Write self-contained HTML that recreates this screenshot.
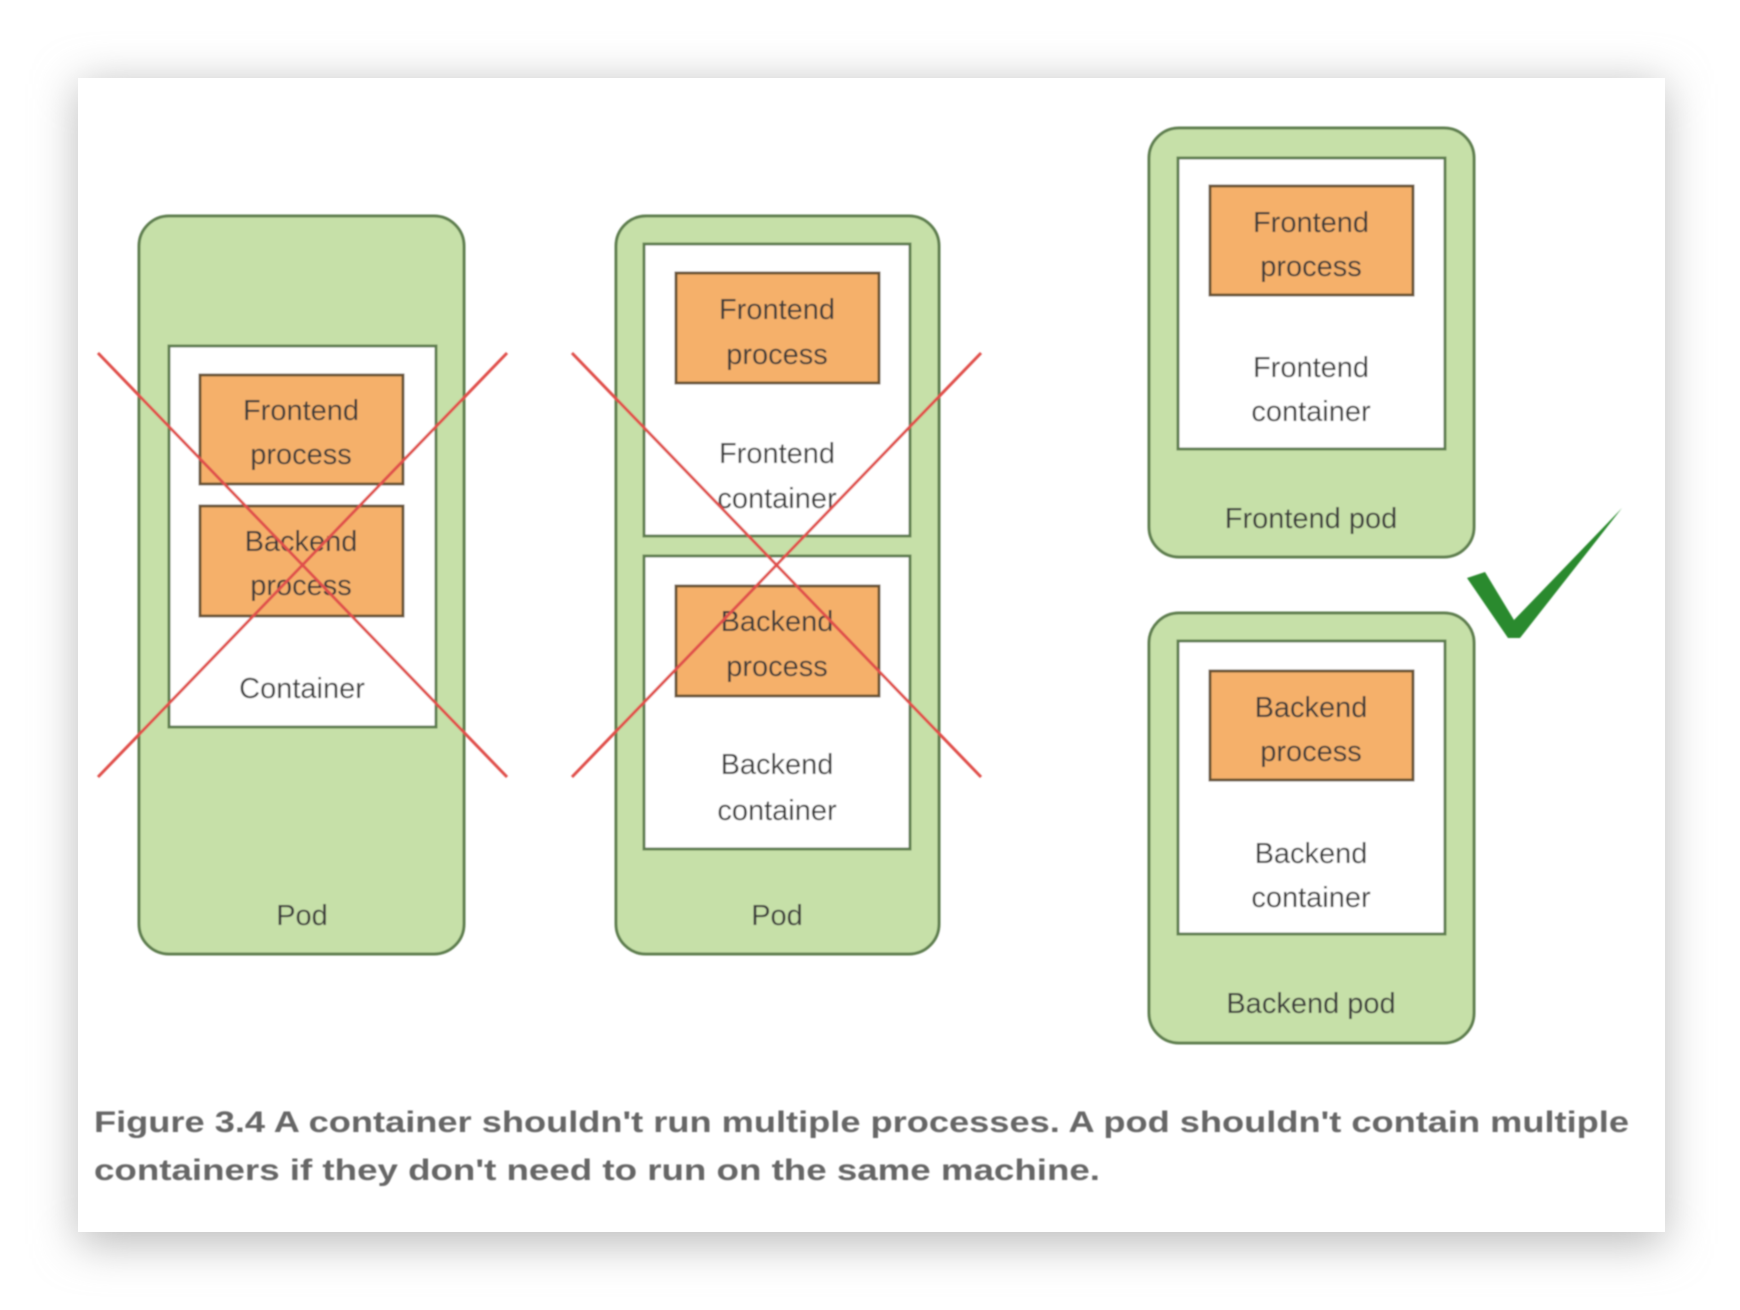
<!DOCTYPE html>
<html><head><style>
html,body{margin:0;padding:0;background:#fff;width:1740px;height:1310px;overflow:hidden}
svg{display:block}
</style></head><body>
<svg width="1740" height="1310" viewBox="0 0 1740 1310" xmlns="http://www.w3.org/2000/svg" font-family="Liberation Sans, sans-serif">
<defs>
<filter id="sh" x="-10%" y="-10%" width="120%" height="120%"><feGaussianBlur stdDeviation="22"/></filter>
<filter id="bl"><feGaussianBlur stdDeviation="0.8"/></filter>
</defs>
<rect x="78" y="84" width="1587" height="1160" fill="#bbb" filter="url(#sh)"/>
<rect x="78" y="78" width="1587" height="1154" fill="#fff"/>
<g filter="url(#bl)">
<g stroke="#5f7f4f" stroke-width="3">
<rect x="139" y="216" width="325" height="738" rx="30" fill="#c6e0a8"/>
<rect x="616" y="216" width="323" height="738" rx="30" fill="#c6e0a8"/>
<rect x="1149" y="128" width="325" height="429" rx="30" fill="#c6e0a8"/>
<rect x="1149" y="613" width="325" height="430" rx="30" fill="#c6e0a8"/>
<rect x="169" y="346" width="267" height="381" fill="#fff"/>
<rect x="644" y="244" width="266" height="292" fill="#fff"/>
<rect x="644" y="556" width="266" height="293" fill="#fff"/>
<rect x="1178" y="158" width="267" height="291" fill="#fff"/>
<rect x="1178" y="641" width="267" height="293" fill="#fff"/>
</g>
<g stroke="#6b5536" stroke-width="3" fill="#f5b06b">
<rect x="200" y="375" width="203" height="109"/>
<rect x="200" y="506" width="203" height="110"/>
<rect x="676" y="273" width="203" height="110"/>
<rect x="676" y="586" width="203" height="110"/>
<rect x="1210" y="186" width="203" height="109"/>
<rect x="1210" y="671" width="203" height="109"/>
</g>
<g font-size="29" fill="#3a3a3a" text-anchor="middle">
<text x="301" y="420">Frontend</text><text x="301" y="464">process</text>
<text x="301" y="551">Backend</text><text x="301" y="595">process</text>
<text x="302" y="698">Container</text>
<text x="302" y="925">Pod</text>
<text x="777" y="319">Frontend</text><text x="777" y="364">process</text>
<text x="777" y="463">Frontend</text><text x="777" y="508">container</text>
<text x="777" y="631">Backend</text><text x="777" y="676">process</text>
<text x="777" y="774">Backend</text><text x="777" y="820">container</text>
<text x="777" y="925">Pod</text>
<text x="1311" y="232">Frontend</text><text x="1311" y="276">process</text>
<text x="1311" y="377">Frontend</text><text x="1311" y="421">container</text>
<text x="1311" y="528">Frontend pod</text>
<text x="1311" y="717">Backend</text><text x="1311" y="761">process</text>
<text x="1311" y="863">Backend</text><text x="1311" y="907">container</text>
<text x="1311" y="1013">Backend pod</text>
</g>
<g stroke="#e0504c" stroke-width="3">
<line x1="98" y1="353" x2="507" y2="777"/><line x1="507" y1="353" x2="98" y2="777"/>
<line x1="572" y1="353" x2="981" y2="777"/><line x1="981" y1="353" x2="572" y2="777"/>
</g>
<path d="M1467 578 L1485 572 L1514 620 L1622 508 L1520 638 L1508 638 Z" fill="#2a8a2e"/>
<g font-size="30" font-weight="bold" fill="#666">
<text x="94" y="1132" textLength="1535" lengthAdjust="spacingAndGlyphs">Figure 3.4    A container shouldn't run multiple processes. A pod shouldn't contain multiple</text>
<text x="94" y="1180" textLength="1006" lengthAdjust="spacingAndGlyphs">containers if they don't need to run on the same machine.</text>
</g>
</g>
</svg>
</body></html>
